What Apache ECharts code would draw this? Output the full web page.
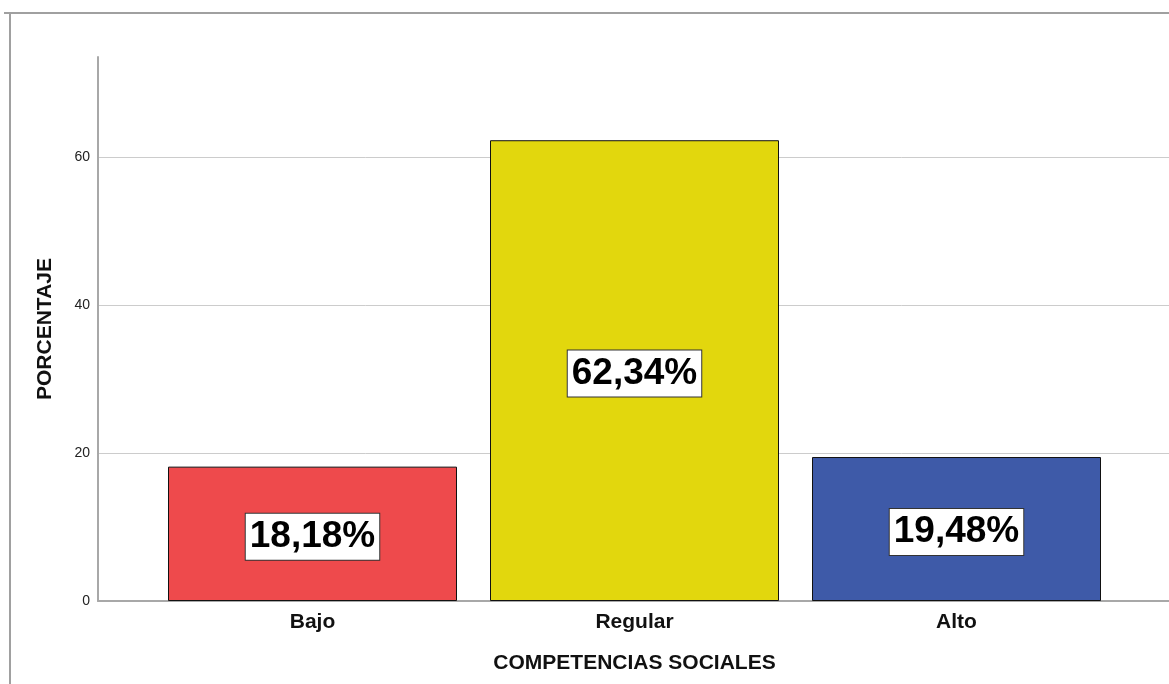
<!DOCTYPE html>
<html>
<head>
<meta charset="utf-8">
<script src="https://cdn.jsdelivr.net/npm/echarts@6/dist/echarts.min.js"></script>
<style>
  html, body { margin: 0; padding: 0; background: #fff; }
  #chart { width: 1169px; height: 684px; }
</style>
</head>
<body>
<div id="chart"></div>
<script>
const categories = ['Bajo', 'Regular', 'Alto'];
const percentages = [18.18, 62.34, 19.48];
const barColors = ['#ee4a4c', '#e2d70d', '#3e5aa8'];
const labelTexts = ['18,18%', '62,34%', '19,48%'];

const font = 'Liberation Sans, Arial, sans-serif';
const myChart = echarts.init(document.getElementById('chart'));

const option = {
  backgroundColor: '#fff',
  animation: false,
  // marco exterior del gráfico
  graphic: [
    { type: 'line', shape: { x1: 4, y1: 13, x2: 1169, y2: 13 }, style: { stroke: '#a0a0a0', lineWidth: 2 } },
    { type: 'line', shape: { x1: 10, y1: 13, x2: 10, y2: 684 }, style: { stroke: '#a0a0a0', lineWidth: 2 } }
  ],
  grid: [
    { left: 98, right: 0, top: 57, bottom: 83 },
    { left: 151.5, right: 51.5, top: 57, bottom: 83 }
  ],
  xAxis: [
    {
      gridIndex: 0,
      type: 'value',
      min: 0,
      max: 1,
      axisLine: { show: true, lineStyle: { color: '#a8a8a8', width: 2 } },
      axisTick: { show: false },
      axisLabel: { show: false },
      splitLine: { show: false }
    },
    {
      gridIndex: 1,
      type: 'category',
      data: categories,
      axisLine: { show: false },
      axisTick: { show: false },
      axisLabel: { color: '#111', fontFamily: font, fontWeight: 'bold', fontSize: 21, margin: 11 },
      name: 'COMPETENCIAS SOCIALES',
      nameLocation: 'middle',
      nameGap: 52,
      nameTextStyle: { color: '#111', fontFamily: font, fontWeight: 'bold', fontSize: 21 }
    }
  ],
  yAxis: [
    {
      gridIndex: 0,
      type: 'value',
      min: 0,
      max: 73.6,
      interval: 20,
      axisLine: { show: true, lineStyle: { color: '#a8a8a8', width: 2 } },
      axisTick: { show: false },
      axisLabel: {
        color: '#222', fontFamily: font, fontSize: 14, margin: 8,
        formatter: v => (v % 20 === 0 ? String(v) : '')
      },
      splitLine: { show: true, showMinLine: false, showMaxLine: false, lineStyle: { color: '#cccccc', width: 1 } },
      name: 'PORCENTAJE',
      nameLocation: 'middle',
      nameGap: 42,
      nameTextStyle: { color: '#111', fontFamily: font, fontWeight: 'bold', fontSize: 21 }
    },
    {
      gridIndex: 1,
      type: 'value',
      min: 0,
      max: 73.6,
      show: false
    }
  ],
  series: [{
    type: 'bar',
    xAxisIndex: 1,
    yAxisIndex: 1,
    barWidth: 289,
    data: percentages.map((v, i) => ({
      value: v,
      itemStyle: { color: barColors[i] }
    })),
    itemStyle: { borderColor: '#111', borderWidth: 1 },
    label: {
      show: true,
      position: 'inside',
      offset: [0, 3],
      formatter: p => labelTexts[p.dataIndex],
      color: '#000',
      fontFamily: font,
      fontWeight: 'bold',
      fontSize: 37,
      lineHeight: 40,
      backgroundColor: '#fff',
      borderColor: '#333',
      borderWidth: 1,
      padding: [4, 4, 2, 4]
    }
  }]
};

myChart.setOption(option);
</script>
</body>
</html>
